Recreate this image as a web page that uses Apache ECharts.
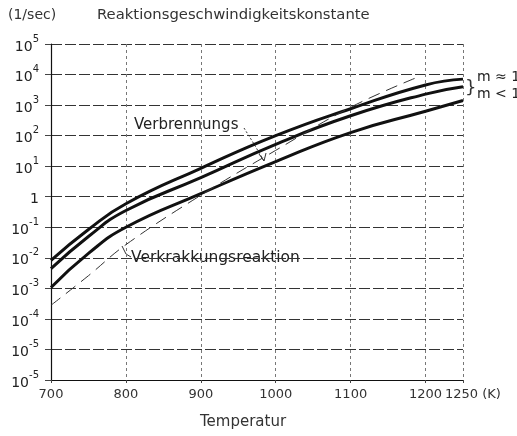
<!DOCTYPE html>
<html>
<head>
<meta charset="utf-8">
<script src="https://cdn.jsdelivr.net/npm/echarts@6/dist/echarts.min.js"></script>
<style>
html,body{margin:0;padding:0;background:#fff;}
#chart{width:517px;height:436px;}
</style>
</head>
<body>
<div id="chart"></div>
<script>
// ---- data ----
var temperatures = [700, 750, 800, 900, 1000, 1100, 1200, 1250];
var upperCurve  = [0.0083, 0.085, 0.59, 8.5, 100, 760, 4570, 7080];   // m ≈ 1 (upper)
var middleCurve = [0.0044, 0.05, 0.355, 4.2, 52, 447, 2290, 3980];   // m ≈ 1 (lower)
var lowerCurve  = [0.00107, 0.014, 0.1, 1.26, 14.1, 126, 630, 1410]; // m < 1
var crackTemps  = [700, 750, 800, 900, 1000, 1100, 1188];
var crackCurve  = [0.00028, 0.0026, 0.027, 1.12, 33, 850, 7940];      // Verkrakkungsreaktion (dashed)
var xTickLabels = ['700', '800', '900', '1000', '1100', '1200', '1250 (K)'];
var xTickValues = [700, 800, 900, 1000, 1100, 1200, 1250];
var yTickLabels = ['10^-5', '10^-5', '10^-4', '10^-3', '10^-2', '10^-1', '1', '10^1', '10^2', '10^3', '10^4', '10^5'];
var yMinExp = -6, yMaxExp = 5;

// logarithmic y: values are plotted by their decimal exponent on a linear axis
function pairs(xs, ys){ return xs.map(function(x,i){ return [x, Math.log(ys[i]) / Math.LN10]; }); }

var FONT = 'DejaVu Sans';
var chart = echarts.init(document.getElementById('chart'));
var option = {
  backgroundColor: '#fff',
  animation: false,
  grid: {left: 51, right: 54, top: 44, bottom: 56},
  xAxis: {
    type: 'value', min: 700, max: 1250, interval: 100,
    name: 'Temperatur', nameLocation: 'middle', nameGap: 35,
    nameTextStyle: {fontFamily: FONT, fontSize: 15, color: '#333', padding: [0, 28, 0, 0]},
    axisLine: {show: true, onZero: false, lineStyle: {color: '#111', width: 1.2}},
    axisTick: {show: true, length: 3, lineStyle: {color: '#444'}},
    axisLabel: {
      fontFamily: FONT, fontSize: 13, color: '#333', margin: 8,
      showMaxLabel: true,
      formatter: function(v){
        var i = xTickValues.indexOf(v);
        if (i < 0) return '';
        if (v === 1250) return '{k|' + xTickLabels[i] + '}';
        return xTickLabels[i];
      },
      rich: {k: {fontFamily: FONT, fontSize: 13, color: '#333', padding: [0,0,0,20]}}
    },
    splitLine: {show: true, lineStyle: {color: '#777', width: 1, type: [3, 3]}}
  },
  yAxis: {
    type: 'value', min: yMinExp, max: yMaxExp, interval: 1,
    axisLine: {show: true, onZero: false, lineStyle: {color: '#111', width: 1.2}},
    axisTick: {show: true, length: 6, lineStyle: {color: '#444'}},
    axisLabel: {
      margin: 12, color: '#222',
      formatter: function(v){
        var s = yTickLabels[Math.round(v) - yMinExp];
        if (s === undefined) return '';
        if (s.indexOf('^') < 0) return '{b|' + s + '}';
        var p = s.split('^');
        return '{b|' + p[0] + '}{s|' + p[1] + '}';
      },
      rich: {
        b: {fontFamily: FONT, fontSize: 14, color: '#222', lineHeight: 20, verticalAlign: 'bottom'},
        s: {fontFamily: FONT, fontSize: 10, color: '#222', lineHeight: 10, verticalAlign: 'top'}
      }
    },
    splitLine: {show: true, lineStyle: {color: '#333', width: 1, type: [11, 3]}}
  },
  series: [
    {type: 'line', data: pairs(temperatures, upperCurve), showSymbol: false, smooth: 0.5,
     lineStyle: {color: '#111', width: 3}},
    {type: 'line', data: pairs(temperatures, middleCurve), showSymbol: false, smooth: 0.5,
     lineStyle: {color: '#111', width: 3}},
    {type: 'line', data: pairs(temperatures, lowerCurve), showSymbol: false, smooth: 0.5,
     lineStyle: {color: '#111', width: 3}},
    {type: 'line', data: pairs(crackTemps, crackCurve), showSymbol: false, smooth: 0.4,
     lineStyle: {color: '#333', width: 1, type: [12, 7]}}
  ],
  graphic: [
    {type: 'text', left: 8, top: 8, style: {text: '(1/sec)', font: '14px "DejaVu Sans"', fill: '#333'}},
    {type: 'text', left: 97, top: 8, style: {text: 'Reaktionsgeschwindigkeitskonstante', font: '14.8px "DejaVu Sans"', fill: '#333'}},
    {type: 'text', left: 477, top: 70, style: {text: 'm ≈ 1', font: '14px "DejaVu Sans"', fill: '#222'}},
    {type: 'text', left: 477, top: 87, style: {text: 'm < 1', font: '14px "DejaVu Sans"', fill: '#222'}},
    {type: 'text', left: 465, top: 79, style: {text: '}', font: '18px "DejaVu Sans"', fill: '#333'}},
    {type: 'text', left: 134, top: 118, style: {text: 'Verbrennungs', font: '15px "DejaVu Sans"', fill: '#222', backgroundColor: '#fff'}},
    {type: 'polyline', shape: {points: [[244,128],[254,144],[264,161]]}, style: {stroke: '#333', lineWidth: 1, lineDash: [2,2], fill: null}},
    {type: 'polyline', shape: {points: [[259,154],[264,161],[266,153]]}, style: {stroke: '#333', lineWidth: 1, fill: null}},
    {type: 'text', left: 131, top: 250, style: {text: 'Verkrakkungsreaktion', font: '15.5px "DejaVu Sans"', fill: '#222', backgroundColor: '#fff', padding: [0,2,0,0]}},
    {type: 'polyline', shape: {points: [[122,246],[126,254],[131,257]]}, style: {stroke: '#333', lineWidth: 1, fill: null}}
  ]
};
chart.setOption(option);
</script>
</body>
</html>
